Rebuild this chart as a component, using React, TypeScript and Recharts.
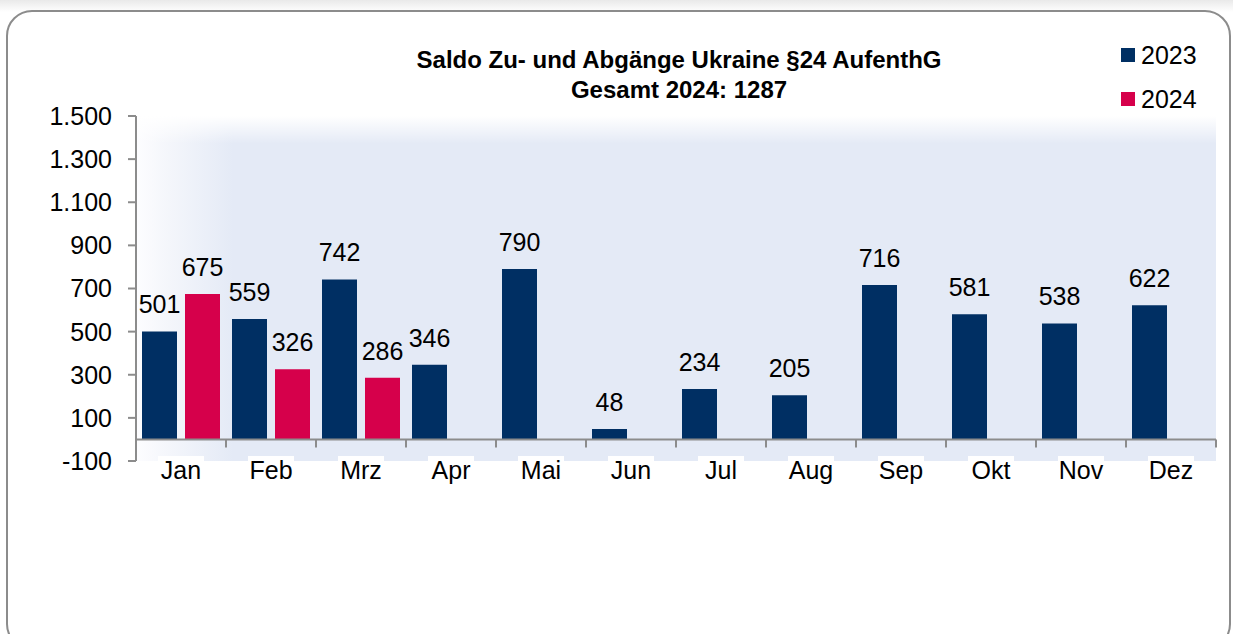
import {
  BarChart,
  Bar,
  XAxis,
  YAxis,
  Legend,
  LabelList,
  ReferenceLine,
  ReferenceArea,
  CartesianGrid,
} from 'recharts';

const months = ['Jan', 'Feb', 'Mrz', 'Apr', 'Mai', 'Jun', 'Jul', 'Aug', 'Sep', 'Okt', 'Nov', 'Dez'];
const saldo2023 = [501, 559, 742, 346, 790, 48, 234, 205, 716, 581, 538, 622];
const saldo2024 = [675, 326, 286, null, null, null, null, null, null, null, null, null];
const yTicks = [-100, 100, 300, 500, 700, 900, 1100, 1300, 1500];

const NAVY = '#002F63';
const RED = '#D6004B';
const AXIS = '#8c8c8c';

const data = months.map((m, i) => ({
  month: m,
  y2023: saldo2023[i],
  y2024: saldo2024[i],
}));

const fmt = (v) => String(v).replace(/\B(?=(\d{3})+(?!\d))/g, '.');

// month label with the little white box behind it (like the excel export)
function MonthTick({ x, y, payload }) {
  const w = payload.value.length * 14 + 4;
  return (
    <g>
      <rect x={x - w / 2} y={y - 5} width={w} height={30} fill='#fff' />
      <text x={x} y={y + 18} textAnchor='middle' fontSize={25} fill='#000'>
        {payload.value}
      </text>
    </g>
  );
}

// zero line with tick marks on the category boundaries
function ZeroAxis(props) {
  const { x1, x2, y1 } = props;
  const step = (x2 - x1) / months.length;
  const marks = [];
  for (let i = 0; i <= months.length; i++) {
    const x = x1 + i * step;
    marks.push(<line key={i} x1={x} x2={x} y1={y1} y2={y1 + 8} stroke={AXIS} strokeWidth={2} />);
  }
  return (
    <g>
      <line x1={x1} x2={x2} y1={y1} y2={y1} stroke={AXIS} strokeWidth={2} />
      {marks}
    </g>
  );
}

function LegendBox({ payload }) {
  return (
    <div>
      {(payload || []).map((p) => (
        <div key={p.value} style={{ display: 'flex', alignItems: 'center', height: 44 }}>
          <span style={{ width: 14, height: 14, background: p.color, marginRight: 6, display: 'inline-block' }} />
          <span style={{ fontSize: 25, color: '#000' }}>{p.value}</span>
        </div>
      ))}
    </div>
  );
}

export default function App() {
  return (
    <div
      style={{
        position: 'absolute',
        left: 0,
        top: 0,
        width: 1233,
        height: 634,
        overflow: 'hidden',
        background: 'linear-gradient(#e9e9e9, #ffffff 12px)',
        fontFamily: '"Liberation Sans", Arial, sans-serif',
      }}
    >
      <div
        style={{
          position: 'absolute',
          left: 6,
          top: 10,
          width: 1225,
          height: 640,
          boxSizing: 'border-box',
          border: '2px solid ' + AXIS,
          borderRadius: 26,
          background: '#fff',
        }}
      />
      <div
        style={{
          position: 'absolute',
          left: 379,
          top: 45,
          width: 600,
          textAlign: 'center',
          fontWeight: 'bold',
          fontSize: 24,
          lineHeight: '30px',
          color: '#000',
        }}
      >
        <div>Saldo Zu- und Abgänge Ukraine §24 AufenthG</div>
        <div>Gesamt 2024: 1287</div>
      </div>
      <div style={{ position: 'absolute', left: 0, top: 0 }}>
        <BarChart
          width={1233}
          height={634}
          data={data}
          margin={{ top: 116, right: 17, bottom: 133, left: 0 }}
          barSize={35}
          barGap={8}
        >
          <defs>
            <linearGradient id='bgH' x1='0' y1='0' x2='1' y2='0'>
              <stop offset='0' stopColor='#fdfdff' />
              <stop offset='0.03' stopColor='#f4f6fb' />
              <stop offset='0.09' stopColor='#e4eaf6' />
              <stop offset='1' stopColor='#e4eaf6' />
            </linearGradient>
            <linearGradient id='bgV' x1='0' y1='0' x2='0' y2='1'>
              <stop offset='0' stopColor='#ffffff' stopOpacity={1} />
              <stop offset='0.08' stopColor='#ffffff' stopOpacity={0} />
              <stop offset='1' stopColor='#ffffff' stopOpacity={0} />
            </linearGradient>
          </defs>
          <CartesianGrid horizontal={false} vertical={false} fill='url(#bgH)' />
          <ReferenceArea y1={-100} y2={1500} fill='url(#bgV)' fillOpacity={1} stroke='none' />
          <XAxis
            dataKey='month'
            height={40}
            axisLine={false}
            tickLine={false}
            tickSize={0}
            tickMargin={0}
            interval={0}
            tick={MonthTick}
          />
          <YAxis
            width={136}
            domain={[-100, 1500]}
            ticks={yTicks}
            interval={0}
            tickFormatter={fmt}
            axisLine={{ stroke: AXIS, strokeWidth: 2 }}
            tickLine={{ stroke: AXIS, strokeWidth: 2 }}
            tickSize={8}
            tickMargin={16}
            tick={{ fontSize: 25, fill: '#000' }}
          />
          <Legend
            layout='vertical'
            align='center'
            verticalAlign='middle'
            content={LegendBox}
            wrapperStyle={{ top: 33, left: 1121, width: 110 }}
          />
          <Bar dataKey='y2023' name='2023' fill={NAVY} isAnimationActive={false}>
            <LabelList dataKey='y2023' position='top' offset={18} fontSize={25} fill='#000' />
          </Bar>
          <Bar dataKey='y2024' name='2024' fill={RED} isAnimationActive={false}>
            <LabelList dataKey='y2024' position='top' offset={18} fontSize={25} fill='#000' />
          </Bar>
          <ReferenceLine y={0} shape={ZeroAxis} />
        </BarChart>
      </div>
    </div>
  );
}
